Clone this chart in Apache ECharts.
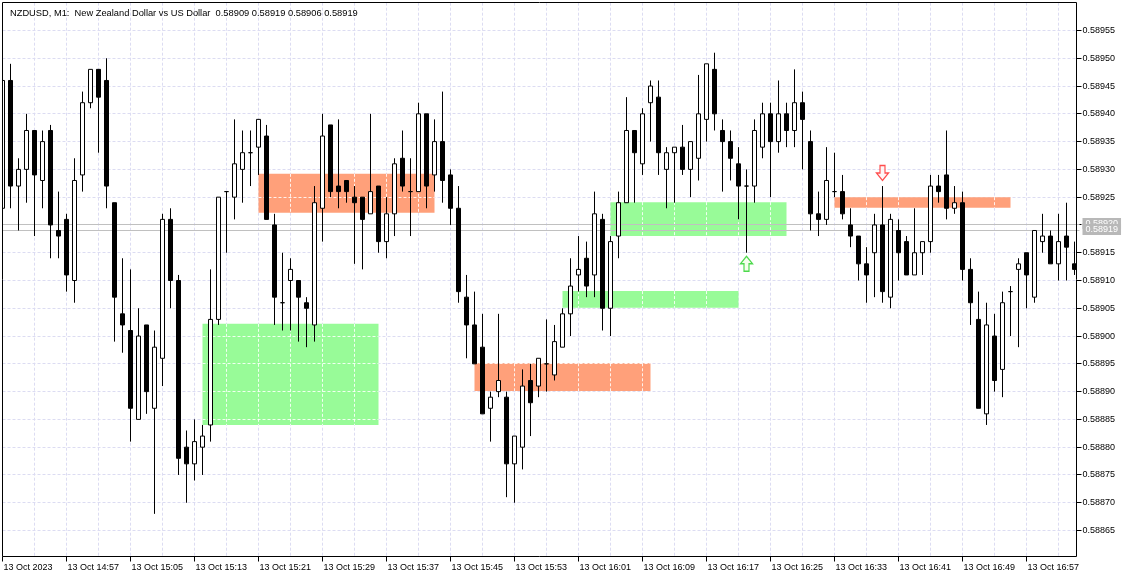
<!DOCTYPE html>
<html><head><meta charset="utf-8">
<script src="https://cdn.jsdelivr.net/npm/echarts@6/dist/echarts.min.js"></script>
<style>html,body{margin:0;padding:0;background:#fff}#c{width:1129px;height:579px}</style>
</head><body><div id="c"></div>
<script>
// ---------------- data ----------------
const chartTitle = 'NZDUSD, M1:  New Zealand Dollar vs US Dollar  0.58909 0.58919 0.58906 0.58919';
const startTime = '14:49';
const opens = [0.58923,0.58946,0.58927,0.58930,0.58937,0.58928,0.58937,0.58919,0.58921,0.58910,
0.58929,0.58942,0.58948,0.58946,0.58924,0.58904,0.58901,0.58885,0.58902,0.58887,
0.58896,0.58921,0.58910,0.58880,0.58877,0.58880,0.58884,0.58903,0.58926,0.58925,
0.58930,0.58933,0.58934,0.58936,0.58920,0.58906,0.58910,0.58910,0.58906,0.58902,
0.58923,0.58938,0.58927,0.58928,0.58925,0.58925,0.58922,0.58927,0.58917,0.58922,
0.58932,0.58926,0.58926,0.58940,0.58929,0.58935,0.58929,0.58923,0.58907,0.58902,
0.58898,0.58887,0.58890,0.58889,0.58877,0.58880,0.58892,0.58891,0.58895,0.58893,
0.58898,0.58904,0.58911,0.58914,0.58911,0.58921,0.58905,0.58918,0.58924,0.58937,
0.58931,0.58942,0.58943,0.58930,0.58933,0.58934,0.58930,0.58932,0.58939,0.58948,
0.58937,0.58935,0.58931,0.58927,0.58927,0.58934,0.58940,0.58935,0.58940,0.58937,
0.58942,0.58935,0.58922,0.58921,0.58926,0.58926,0.58920,0.58918,0.58913,0.58915,
0.58920,0.58907,0.58919,0.58917,0.58911,0.58915,0.58917,0.58927,0.58929,0.58923,
0.58924,0.58912,0.58903,0.58886,0.58900,0.58894,0.58908,0.58912,0.58915,0.58907,
0.58917,0.58918,0.58913,0.58918,0.58913];
const highs = [0.58947,0.58949,0.58932,0.58940,0.58937,0.58937,0.58938,0.58926,0.58922,0.58932,
0.58944,0.58948,0.58948,0.58950,0.58924,0.58914,0.58912,0.58905,0.58902,0.58901,
0.58922,0.58923,0.58911,0.58883,0.58885,0.58884,0.58912,0.58925,0.58926,0.58939,
0.58937,0.58937,0.58939,0.58938,0.58922,0.58915,0.58914,0.58910,0.58907,0.58927,
0.58940,0.58938,0.58939,0.58928,0.58927,0.58925,0.58940,0.58927,0.58925,0.58932,
0.58937,0.58932,0.58942,0.58940,0.58939,0.58944,0.58930,0.58927,0.58911,0.58908,
0.58904,0.58890,0.58904,0.58890,0.58882,0.58894,0.58895,0.58896,0.58903,0.58902,
0.58905,0.58914,0.58918,0.58917,0.58926,0.58922,0.58918,0.58926,0.58943,0.58937,
0.58941,0.58946,0.58946,0.58934,0.58934,0.58938,0.58935,0.58947,0.58949,0.58951,
0.58939,0.58937,0.58934,0.58930,0.58939,0.58942,0.58942,0.58946,0.58942,0.58948,
0.58944,0.58937,0.58926,0.58934,0.58933,0.58929,0.58923,0.58918,0.58916,0.58922,
0.58927,0.58922,0.58921,0.58918,0.58923,0.58917,0.58929,0.58929,0.58937,0.58927,
0.58926,0.58914,0.58908,0.58906,0.58904,0.58908,0.58909,0.58914,0.58915,0.58919,
0.58922,0.58919,0.58922,0.58924,0.58917];
const lows = [0.58922,0.58923,0.58919,0.58924,0.58918,0.58923,0.58914,0.58914,0.58908,0.58906,
0.58926,0.58941,0.58933,0.58923,0.58899,0.58897,0.58881,0.58885,0.58886,0.58868,
0.58891,0.58905,0.58875,0.58870,0.58874,0.58875,0.58881,0.58902,0.58915,0.58921,
0.58924,0.58927,0.58929,0.58921,0.58902,0.58901,0.58901,0.58899,0.58898,0.58899,
0.58917,0.58925,0.58923,0.58924,0.58913,0.58912,0.58922,0.58915,0.58914,0.58918,
0.58926,0.58918,0.58926,0.58923,0.58926,0.58924,0.58920,0.58906,0.58896,0.58895,
0.58886,0.58881,0.58889,0.58871,0.58870,0.58876,0.58882,0.58889,0.58890,0.58892,
0.58898,0.58900,0.58908,0.58907,0.58907,0.58901,0.58900,0.58914,0.58924,0.58924,
0.58929,0.58935,0.58929,0.58923,0.58924,0.58929,0.58925,0.58928,0.58935,0.58937,
0.58926,0.58928,0.58921,0.58915,0.58924,0.58932,0.58925,0.58933,0.58934,0.58934,
0.58930,0.58919,0.58918,0.58920,0.58925,0.58921,0.58916,0.58910,0.58906,0.58907,
0.58906,0.58905,0.58910,0.58911,0.58911,0.58911,0.58915,0.58924,0.58921,0.58922,
0.58910,0.58902,0.58887,0.58884,0.58890,0.58889,0.58900,0.58898,0.58905,0.58906,
0.58915,0.58913,0.58910,0.58910,0.58911];
const closes = [0.58946,0.58927,0.58930,0.58937,0.58929,0.58935,0.58920,0.58918,0.58911,0.58928,
0.58942,0.58948,0.58943,0.58927,0.58907,0.58902,0.58887,0.58900,0.58890,0.58898,
0.58921,0.58910,0.58878,0.58877,0.58881,0.58882,0.58903,0.58925,0.58926,0.58931,
0.58933,0.58933,0.58939,0.58921,0.58907,0.58906,0.58912,0.58907,0.58905,0.58924,
0.58936,0.58926,0.58926,0.58926,0.58924,0.58921,0.58926,0.58917,0.58922,0.58931,
0.58927,0.58926,0.58940,0.58927,0.58935,0.58928,0.58923,0.58908,0.58902,0.58895,
0.58886,0.58889,0.58892,0.58877,0.58882,0.58891,0.58888,0.58896,0.58895,0.58899,
0.58904,0.58909,0.58912,0.58909,0.58922,0.58905,0.58917,0.58924,0.58937,0.58933,
0.58940,0.58945,0.58933,0.58933,0.58934,0.58930,0.58935,0.58940,0.58949,0.58940,
0.58935,0.58932,0.58927,0.58927,0.58937,0.58940,0.58935,0.58940,0.58937,0.58942,
0.58939,0.58922,0.58921,0.58928,0.58926,0.58922,0.58918,0.58913,0.58911,0.58920,
0.58908,0.58921,0.58915,0.58911,0.58915,0.58917,0.58927,0.58926,0.58923,0.58924,
0.58912,0.58906,0.58887,0.58902,0.58892,0.58906,0.58908,0.58913,0.58911,0.58919,
0.58918,0.58913,0.58917,0.58916,0.58912];
const xTickLabels = ['13 Oct 2023','13 Oct 14:57','13 Oct 15:05','13 Oct 15:13','13 Oct 15:21','13 Oct 15:29',
  '13 Oct 15:37','13 Oct 15:45','13 Oct 15:53','13 Oct 16:01','13 Oct 16:09','13 Oct 16:17','13 Oct 16:25',
  '13 Oct 16:33','13 Oct 16:41','13 Oct 16:49','13 Oct 16:57'];
const yTickValues = [0.58865,0.58870,0.58875,0.58880,0.58885,0.58890,0.58895,0.58900,0.58905,0.58910,
  0.58915,0.58920,0.58925,0.58930,0.58935,0.58940,0.58945,0.58950,0.58955];
// zones (start bar index, end bar index, low price, high price, kind)
const zoneStart = [25, 32, 59, 70, 76, 104];
const zoneEnd   = [47, 54, 81, 92, 98, 126];
const zoneLow   = [0.58884, 0.589222, 0.588901, 0.589051, 0.58918, 0.589231];
const zoneHigh  = [0.589022, 0.589292, 0.588951, 0.589081, 0.589241, 0.58925];
const zoneKind  = ['buy', 'sell', 'sell', 'buy', 'buy', 'sell'];
// signal arrows
const upArrowBars = [93];
const downArrowBars = [110];
// ask / bid price lines
const priceLines = [0.58920, 0.58919];

// ---------------- build ----------------
const [sh, sm] = startTime.split(':').map(Number);
const categories = opens.map((_, i) => {
  const t = sh * 60 + sm + i;
  return '13 Oct ' + String(Math.floor(t / 60)).padStart(2, '0') + ':' + String(t % 60).padStart(2, '0');
});
const candleData = opens.map((o, i) => [o, closes[i], lows[i], highs[i]]);
const zoneData = zoneStart.map((s, i) => [s, zoneEnd[i], zoneLow[i], zoneHigh[i], zoneKind[i] === 'buy' ? 1 : 0]);
const vGridIdx = [];
for (let i = 0; i < opens.length; i += 4) vGridIdx.push(i);

const FONT = 'Liberation Sans';
const GRID_COLOR = '#dcdcf2';
const crisp = v => Math.round(v - 0.5) + 0.5;
const FRAME_L = 2.5, FRAME_R = 1076.5;

const chart = echarts.init(document.getElementById('c'), null, {renderer: 'canvas'});
chart.setOption({
  animation: false,
  backgroundColor: '#ffffff',
  title: {
    text: chartTitle, left: 5, top: 4,
    textStyle: {fontSize: 9.3, fontWeight: 'normal', color: '#000', fontFamily: FONT}
  },
  grid: {left: -1.5, top: 2.7, width: 1080, height: 555.6, containLabel: false, outerBoundsMode: 'none'},
  xAxis: {
    type: 'category', data: categories, boundaryGap: true, offset: -1.8,
    axisLine: {show: false},
    axisTick: {show: true, alignWithLabel: true, interval: i => i % 8 === 0, length: 5,
      lineStyle: {color: '#000', width: 1}},
    axisLabel: {interval: i => i % 8 === 0, formatter: (v, i) => xTickLabels[i / 8] || '',
      align: 'left', margin: 7, fontSize: 9, color: '#000', fontFamily: FONT, padding: [0, 0, 0, 1]},
    splitLine: {show: false}
  },
  yAxis: {
    type: 'value', position: 'right', min: 0.58860, max: 0.58960, interval: 0.00005, offset: -2,
    axisLine: {show: false},
    axisTick: {show: false},
    axisLabel: {
      formatter: v => (v < 0.588625 || v > 0.589575) ? '' : v.toFixed(5),
      margin: 6, fontSize: 9, color: '#000', fontFamily: FONT},
    splitLine: {show: false}
  },
  series: [
    { // grid lines + price-axis tick marks
      type: 'custom', z: 1, silent: true, clip: false, data: [[0, 0]],
      renderItem: (params, api) => {
        const cs = params.coordSys;
        const y0 = cs.y, y1 = cs.y + cs.height - 2;
        const children = [];
        yTickValues.forEach(v => {
          const y = crisp(api.coord([0, v])[1]);
          children.push({type: 'line', shape: {x1: FRAME_L, y1: y, x2: FRAME_R, y2: y},
            style: {stroke: GRID_COLOR, lineWidth: 1, lineDash: [3, 2]}});
          children.push({type: 'line', shape: {x1: FRAME_R, y1: y, x2: FRAME_R + 5, y2: y},
            style: {stroke: '#000', lineWidth: 1}});
        });
        vGridIdx.forEach(k => {
          const x = crisp(api.coord([k, 0.589])[0]);
          children.push({type: 'line', shape: {x1: x, y1: y0, x2: x, y2: y1},
            style: {stroke: GRID_COLOR, lineWidth: 1, lineDash: [3, 2]}});
        });
        return {type: 'group', children};
      }
    },
    { // zones
      type: 'custom', z: 2, silent: true, data: zoneData,
      renderItem: (params, api) => {
        const s = api.value(0), e = api.value(1), lo = api.value(2), hi = api.value(3), kind = api.value(4);
        const p1 = api.coord([s, hi]), p2 = api.coord([e, lo]);
        const children = [{type: 'rect', shape: {x: p1[0], y: p1[1], width: p2[0] - p1[0], height: p2[1] - p1[1]},
          style: {fill: kind === 1 ? '#98fb98' : '#ffa07a'}}];
        yTickValues.forEach(v => {
          if (v > lo && v < hi) {
            const y = crisp(api.coord([0, v])[1]);
            children.push({type: 'line', shape: {x1: p1[0], y1: y, x2: p2[0], y2: y},
              style: {stroke: '#ffffff', lineWidth: 1, lineDash: [3, 2], opacity: 0.85}});
          }
        });
        vGridIdx.forEach(k => {
          if (k > s && k < e) {
            const x = crisp(api.coord([k, lo])[0]);
            children.push({type: 'line', shape: {x1: x, y1: p1[1], x2: x, y2: p2[1]},
              style: {stroke: '#ffffff', lineWidth: 1, lineDash: [3, 2], opacity: 0.85}});
          }
        });
        return {type: 'group', children};
      }
    },
    { // ask / bid lines with price boxes
      type: 'custom', z: 2.5, silent: true, clip: false,
      data: priceLines.map(p => [0, p]),
      renderItem: (params, api) => {
        const price = api.value(1);
        const y = crisp(api.coord([0, price])[1]);
        return {type: 'group', children: [
          {type: 'line', shape: {x1: FRAME_L, y1: y, x2: FRAME_R + 3, y2: y},
            style: {stroke: '#c0c0c0', lineWidth: 1}},
          {type: 'text', style: {text: price.toFixed(5), x: FRAME_R + 6, y: y - 1, verticalAlign: 'middle',
            fill: '#ffffff', font: '9px "Liberation Sans"', backgroundColor: '#b8b8b8', padding: [1, 3, 1, 3]}}
        ]};
      }
    },
    {
      type: 'candlestick', z: 3, data: candleData, barWidth: 4, silent: true,
      itemStyle: {color: '#ffffff', color0: '#000000', borderColor: '#000000', borderColor0: '#000000',
        borderColorDoji: '#000000', borderWidth: 1}
    },
    {
      type: 'scatter', z: 4, silent: true,
      data: upArrowBars.map(k => [k, lows[k]]),
      symbol: 'path://M6,0 L12,7 L8.5,7 L8.5,14 L3.5,14 L3.5,7 L0,7 Z',
      symbolSize: [12, 15], symbolOffset: [0, 11],
      itemStyle: {color: '#f4ffe8', borderColor: '#20d020', borderWidth: 1.3}
    },
    {
      type: 'scatter', z: 4, silent: true,
      data: downArrowBars.map(k => [k, highs[k]]),
      symbol: 'path://M3.5,0 L8.5,0 L8.5,7 L12,7 L6,14 L0,7 L3.5,7 Z',
      symbolSize: [12, 15], symbolOffset: [0, -13],
      itemStyle: {color: '#fff4f4', borderColor: '#ff2020', borderWidth: 1.3}
    }
  ],
  graphic: [
    {type: 'rect', z: 100, silent: true, shape: {x: 0, y: 0, width: 2, height: 579}, style: {fill: '#ffffff'}},
    {type: 'rect', z: 101, silent: true, shape: {x: 2.5, y: 2.5, width: 1074, height: 554},
      style: {fill: null, stroke: '#000000', lineWidth: 1}}
  ]
});
</script>
</body></html>
